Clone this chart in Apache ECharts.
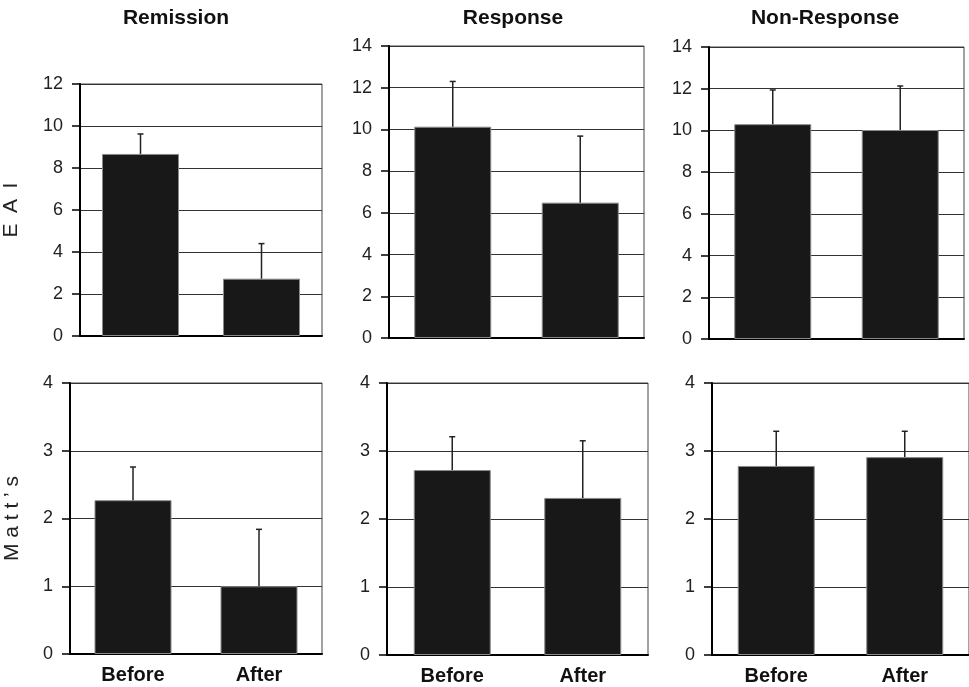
<!DOCTYPE html>
<html>
<head>
<meta charset="utf-8">
<script src="https://cdn.jsdelivr.net/npm/echarts@6/dist/echarts.min.js"></script>
<style>
  html, body { margin: 0; padding: 0; background: #fff; }
  #main { width: 969px; height: 687px; }
</style>
</head>
<body>
<div id="main"></div>
<script>
var categories = ['Before', 'After'];
var panelTitles = ['Remission', 'Response', 'Non-Response'];

// EAI means and SD (top row)
var eaiRemission = [8.67, 2.73];
var eaiRemissionSd = [0.95, 1.67];
var eaiResponse = [10.13, 6.49];
var eaiResponseSd = [2.17, 3.19];
var eaiNonResponse = [10.3, 10.02];
var eaiNonResponseSd = [1.64, 2.11];

// Matt's means and SD (bottom row)
var mattRemission = [2.27, 1.0];
var mattRemissionSd = [0.49, 0.84];
var mattResponse = [2.72, 2.31];
var mattResponseSd = [0.49, 0.84];
var mattNonResponse = [2.78, 2.91];
var mattNonResponseSd = [0.51, 0.38];

var eaiMax = [12, 14, 14];
var mattMax = 4;

var chart = echarts.init(document.getElementById('main'));

var grids = [
  { left: 80, top: 84, width: 242, height: 252 },
  { left: 389, top: 46, width: 255, height: 292 },
  { left: 709, top: 47, width: 255, height: 292 },
  { left: 70, top: 383, width: 252, height: 271 },
  { left: 387, top: 383, width: 261, height: 272 },
  { left: 712, top: 383, width: 262, height: 272 }
];

var means = [eaiRemission, eaiResponse, eaiNonResponse, mattRemission, mattResponse, mattNonResponse];
var sds = [eaiRemissionSd, eaiResponseSd, eaiNonResponseSd, mattRemissionSd, mattResponseSd, mattNonResponseSd];

var font = 'Liberation Sans, Arial, Helvetica, sans-serif';

var xAxes = [], yAxes = [], series = [];
grids.forEach(function (g, i) {
  g.show = true;
  g.borderColor = '#444';
  g.borderWidth = 1;
  g.containLabel = false;
  var bottomRow = i >= 3;
  xAxes.push({
    type: 'category', gridIndex: i, data: categories,
    axisLine: { lineStyle: { color: '#000', width: 2 } },
    axisTick: { show: false },
    axisLabel: {
      show: bottomRow, color: '#111', fontFamily: font,
      fontWeight: 'bold', fontSize: 20, margin: 11
    }
  });
  var yName = '';
  var gap = 0;
  if (i === 0) { yName = 'E\u2002A\u2002I'; gap = 58; }
  if (i === 3) { yName = 'M a t t \u2019 s'; gap = 47; }
  yAxes.push({
    type: 'value', gridIndex: i, min: 0,
    max: bottomRow ? mattMax : eaiMax[i],
    interval: bottomRow ? 1 : 2,
    name: yName, nameLocation: 'middle', nameGap: gap,
    nameTextStyle: { fontFamily: font, fontSize: 21, color: '#222' },
    axisLine: { show: true, lineStyle: { color: '#000', width: 2 } },
    axisTick: { show: true, inside: false, length: 8, lineStyle: { color: '#000', width: 1.5 } },
    axisLabel: { color: '#222', fontFamily: font, fontSize: 18, margin: 17 },
    splitLine: { show: true, lineStyle: { color: '#333', width: 1.2 } }
  });
  series.push({
    type: 'bar', xAxisIndex: i, yAxisIndex: i,
    data: means[i], barWidth: 77,
    itemStyle: { color: '#181818', borderColor: '#8a8a8a', borderWidth: 1 },
    z: 2
  });
  var errData = means[i].map(function (m, k) { return [k, m, m + sds[i][k]]; });
  series.push({
    type: 'custom', xAxisIndex: i, yAxisIndex: i,
    data: errData, z: 3,
    renderItem: function (params, api) {
      var lo = api.coord([api.value(0), api.value(1)]);
      var hi = api.coord([api.value(0), api.value(2)]);
      var style = { stroke: '#222', lineWidth: 1.5 };
      return {
        type: 'group',
        children: [
          { type: 'line', shape: { x1: lo[0], y1: lo[1], x2: hi[0], y2: hi[1] }, style: style },
          { type: 'line', shape: { x1: hi[0] - 3, y1: hi[1], x2: hi[0] + 3, y2: hi[1] }, style: style }
        ]
      };
    }
  });
});

var titleCenters = [176, 513, 825];
var titles = panelTitles.map(function (t, i) {
  return {
    text: t, left: titleCenters[i], top: 8, textAlign: 'center', padding: 0,
    textStyle: { fontFamily: font, fontWeight: 'bold', fontSize: 21, color: '#111' }
  };
});

chart.setOption({
  animation: false,
  backgroundColor: '#fff',
  title: titles,
  grid: grids,
  xAxis: xAxes,
  yAxis: yAxes,
  series: series
});
</script>
</body>
</html>
